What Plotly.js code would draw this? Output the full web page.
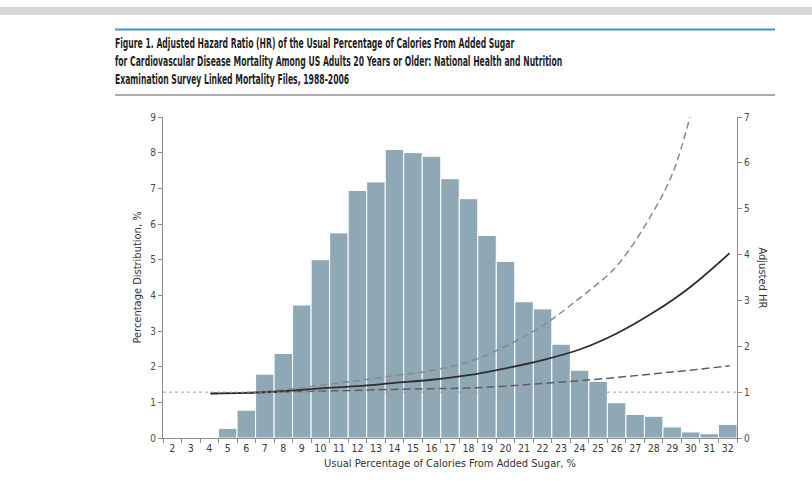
<!DOCTYPE html>
<html>
<head>
<meta charset="utf-8">
<script src="https://cdn.plot.ly/plotly-3.0.1.min.js"></script>
<style>
  html, body { margin: 0; padding: 0; background: #ffffff; }
  #chart { width: 812px; height: 504px; }
</style>
</head>
<body>
<div id="chart"></div>
<script>
// Histogram: usual % of calories from added sugar (categories) vs percentage distribution
const sugarCategories = ['2','3','4','5','6','7','8','9','10','11','12','13','14','15','16','17',
  '18','19','20','21','22','23','24','25','26','27','28','29','30','31','32'];
const percentDistribution = [0, 0, 0, 0.27, 0.78, 1.79, 2.37, 3.73, 5.0, 5.75, 6.94, 7.18, 8.09, 8.0, 7.9, 7.27,
  6.71, 5.68, 4.95, 3.82, 3.62, 2.63, 1.9, 1.59, 0.99, 0.66, 0.61, 0.31, 0.17, 0.12, 0.38];

// Adjusted HR curve and 95% CI
const hrSugar   = [4.07, 6, 8, 10, 12, 14, 16, 18, 20, 22, 24, 26, 28, 30, 32.1];
const hrCentral = [0.97, 0.985, 1.02, 1.08, 1.13, 1.20, 1.27, 1.37, 1.52, 1.70, 1.93, 2.28, 2.74, 3.30, 4.03];

const upperSugar = [4.07, 6, 8, 10, 12, 14, 16, 18, 20, 22, 24, 26, 28, 29.06, 29.96];
const hrUpper    = [0.97, 0.99, 1.05, 1.15, 1.25, 1.36, 1.47, 1.66, 2.00, 2.45, 3.05, 3.75, 4.95, 5.81, 7.0];

const lowerSugar = [4.07, 6, 8, 10, 12, 14, 16, 18, 20, 22, 24, 26, 28, 30, 32.1];
const hrLower    = [0.97, 0.985, 1.005, 1.02, 1.04, 1.06, 1.075, 1.09, 1.13, 1.19, 1.25, 1.32, 1.40, 1.48, 1.575];

const referenceHR = 1;
const leftTicks = [0,1,2,3,4,5,6,7,8,9];
const rightTicks = [0,1,2,3,4,5,6,7];

const titleLines = [
  'Figure 1. Adjusted Hazard Ratio (HR) of the Usual Percentage of Calories From Added Sugar',
  'for Cardiovascular Disease Mortality Among US Adults 20 Years or Older: National Health and Nutrition',
  'Examination Survey Linked Mortality Files, 1988-2006'
];
const titleFirstLineWidth = 400;

const FONT = '"DejaVu Sans Condensed", "DejaVu Sans", sans-serif';
const AXIS_COLOR = '#8c8c8c';
const TICK_FONT = { family: FONT, size: 10, color: '#4a4a4a' };

const traces = [
  {
    type: 'bar',
    x: sugarCategories,
    y: percentDistribution,
    marker: { color: '#8fa8b6', line: { color: '#ffffff', width: 1 } },
    xaxis: 'x', yaxis: 'y',
    hoverinfo: 'x+y',
    showlegend: false
  },
  {
    type: 'scatter', mode: 'lines',
    x: upperSugar, y: hrUpper,
    line: { color: '#8a8a8a', width: 1.5, dash: '7px,4px', shape: 'spline', smoothing: 1 },
    xaxis: 'x2', yaxis: 'y2', showlegend: false
  },
  {
    type: 'scatter', mode: 'lines',
    x: lowerSugar, y: hrLower,
    line: { color: '#5e5e5e', width: 1.5, dash: '8px,4px', shape: 'spline', smoothing: 1 },
    xaxis: 'x2', yaxis: 'y2', showlegend: false
  },
  {
    type: 'scatter', mode: 'lines',
    x: hrSugar, y: hrCentral,
    line: { color: '#2e2e2e', width: 1.8, shape: 'spline', smoothing: 1 },
    xaxis: 'x2', yaxis: 'y2', showlegend: false
  }
];

// pixel helpers for header decorations (paper coordinates)
const L = 163, R = 75, T = 117, B = 66, W = 812, H = 504;
const pw = W - L - R, ph = H - T - B;
const px = v => (v - L) / pw;
const py = v => (H - B - v) / ph;

const layout = {
  width: W, height: H,
  margin: { l: L, r: R, t: T, b: B, pad: 0 },
  paper_bgcolor: '#ffffff',
  plot_bgcolor: 'rgba(0,0,0,0)',
  bargap: 0,
  font: { family: FONT, color: '#333333' },
  title: {
    text: titleLines.join('<br>'),
    font: { family: FONT, size: 14, color: '#1f1f1f', weight: 'bold' },
    xref: 'container', yref: 'container',
    x: 115 / W, xanchor: 'left',
    y: 1 - 48 / H, yanchor: 'top'
  },
  xaxis: {
    type: 'category',
    categoryorder: 'array', categoryarray: sugarCategories,
    range: [-0.5, sugarCategories.length - 0.5],
    showline: true, linecolor: AXIS_COLOR, linewidth: 1,
    ticks: 'outside', tickson: 'boundaries', ticklen: 4, tickcolor: AXIS_COLOR,
    tickangle: 0,
    tickfont: { family: FONT, size: 10.5, color: '#3a3a3a' },
    showgrid: false, zeroline: false,
    title: { text: 'Usual Percentage of Calories From Added Sugar, %', font: { family: FONT, size: 11, color: '#333333' }, standoff: 6 }
  },
  xaxis2: {
    overlaying: 'x',
    range: [1.5, 32.5],
    visible: false
  },
  yaxis: {
    range: [0, 9],
    tickvals: leftTicks,
    showline: true, linecolor: AXIS_COLOR, linewidth: 1,
    ticks: 'outside', ticklen: 4, tickcolor: AXIS_COLOR,
    tickfont: TICK_FONT,
    showgrid: false, zeroline: false,
    title: { text: 'Percentage Distribution, %', font: { family: FONT, size: 11, color: '#333333' }, standoff: 6 }
  },
  yaxis2: {
    overlaying: 'y', side: 'right',
    range: [0, 7],
    tickvals: rightTicks,
    showline: true, linecolor: AXIS_COLOR, linewidth: 1,
    ticks: 'outside', ticklen: 4, tickcolor: AXIS_COLOR,
    tickfont: TICK_FONT,
    showgrid: false, zeroline: false
  },
  shapes: [
    // grey band at the very top
    { type: 'rect', xref: 'paper', yref: 'paper', x0: px(0), x1: px(W), y0: py(15), y1: py(7),
      fillcolor: '#d4d6d9', line: { width: 0 }, layer: 'above' },
    // blue rule above title
    { type: 'line', xref: 'paper', yref: 'paper', x0: px(115), x1: px(775), y0: py(29.5), y1: py(29.5),
      line: { color: '#4a92c4', width: 2 } },
    // grey rule below title
    { type: 'line', xref: 'paper', yref: 'paper', x0: px(115), x1: px(775), y0: py(95), y1: py(95),
      line: { color: '#8f8f8f', width: 1.5 } },
    // reference line HR = 1
    { type: 'line', xref: 'paper', yref: 'y2', x0: 0, x1: 1, y0: referenceHR, y1: referenceHR,
      line: { color: '#a0a0a0', width: 1, dash: 'dot' }, layer: 'above' }
  ],
  annotations: [
    { text: 'Adjusted HR', xref: 'paper', yref: 'paper', x: px(762), y: 0.5,
      xanchor: 'center', yanchor: 'middle', textangle: 90, showarrow: false,
      font: { family: FONT, size: 11, color: '#333333' } }
  ]
};

Plotly.newPlot('chart', traces, layout, { displayModeBar: false, staticPlot: true }).then(() => {
  // condense the title horizontally to match the narrow typeface of the original
  const textEl = document.querySelector('.gtitle');
  if (!textEl) return;
  const first = textEl.querySelector('tspan.line') || textEl;
  const natural = first.getComputedTextLength();
  if (!natural) return;
  const s = titleFirstLineWidth / natural;
  const x0 = parseFloat(textEl.getAttribute('x')) || 115;
  const prev = textEl.getAttribute('transform') || '';
  textEl.setAttribute('transform', `${prev} translate(${x0},0) scale(${s},1) translate(${-x0},0)`);
});
</script>
</body>
</html>
